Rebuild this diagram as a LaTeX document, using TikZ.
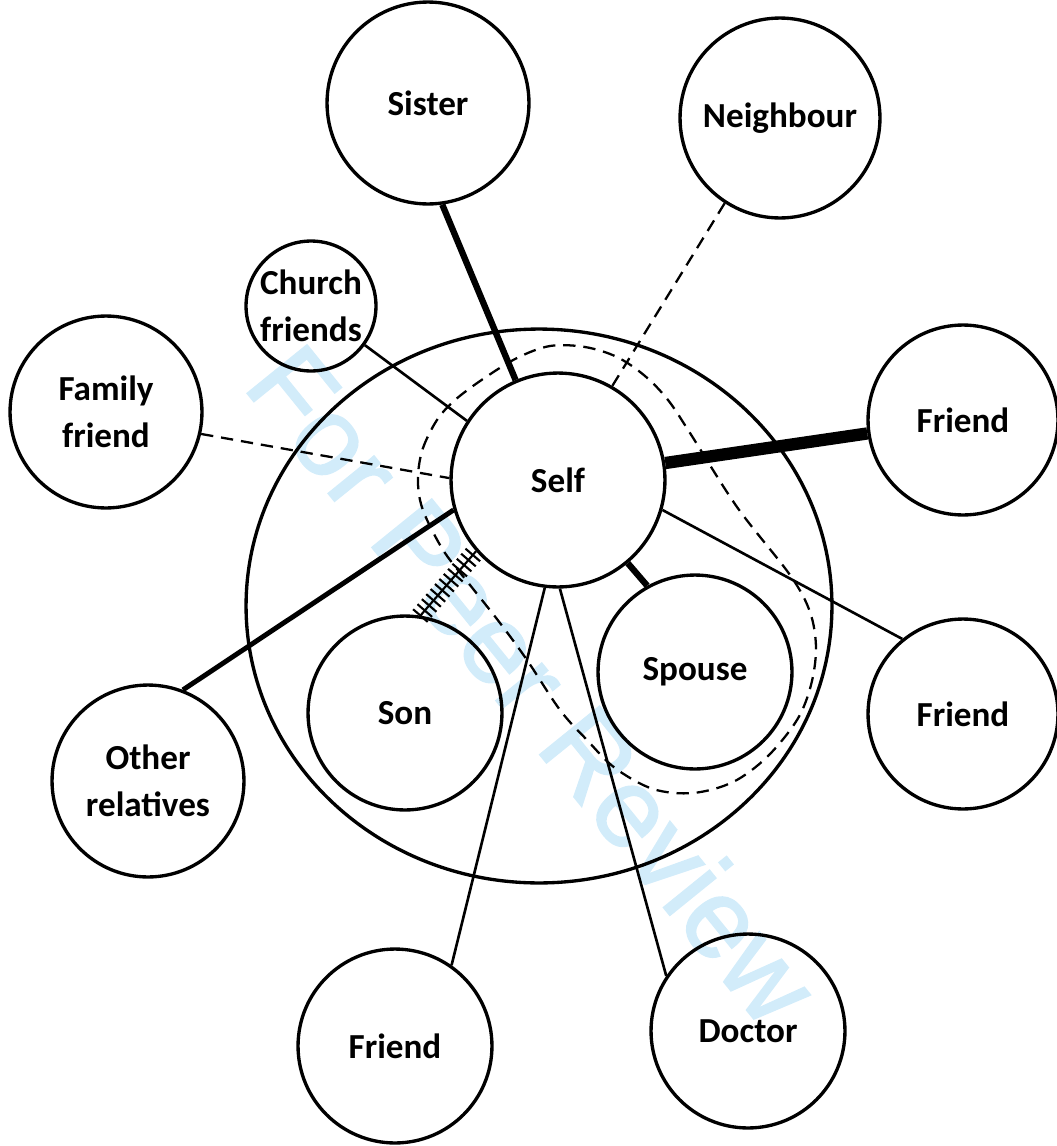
\documentclass[tikz,border=0pt]{standalone}
\usepackage{fontspec}
\setmainfont{Carlito}
\newfontfamily\markfont[FakeBold=1.6]{Liberation Sans}
\usepackage{tikz}
\usetikzlibrary{decorations.markings}
\definecolor{MarkBlue}{HTML}{D2ECFA}

\tikzset{
  person/.style={circle, draw, line width=1.9pt, inner sep=0pt, align=center,
    minimum size=#1*0.04cm, font=\bfseries\fontsize{20}{27}\selectfont},
  tie/.style={line width=1.5pt},
  strongtie/.style={line width=3.6pt},
  weaktie/.style={line width=1.3pt, dash pattern=on 7pt off 4.5pt},
  conflict/.style={line width=1.2pt, postaction={decorate, decoration={markings,
    mark=between positions 0 and 1 step 3.8pt with {\draw[line width=1.2pt] (0,-5.5pt) -- (0,5.5pt);}}}},
}

\begin{document}
\begin{tikzpicture}[x=0.02cm, y=-0.02cm]
  \useasboundingbox (0,0) rectangle (1057,1146);

  % watermark
  \node[rotate=-51, text=MarkBlue, inner sep=0pt, font=\markfont\fontsize{63.5}{64}\selectfont]
    (watermark) at (534,684) {For Peer Review};

  % people
  \node[person=101] (sister) at (428,103) {Sister};
  \node[person=100] (neighbour) at (780,118) {Neighbour};
  \node[person=65] (church) at (311,306) {Church\\friends};
  \node[person=96] (famfriend) at (106,412) {Family\\friend};
  \node[person=107] (self) at (558,480) {Self};
  \node[person=95] (friendA) at (963,420) {Friend};
  \node[person=95] (friendB) at (963,714) {Friend};
  \node[person=97] (spouse) at (695,672) {Spouse};
  \node[person=97] (son) at (405,713) {Son};
  \node[person=96] (relatives) at (148,781) {Other\\relatives};
  \node[person=97] (friendC) at (395,1046) {Friend};
  \node[person=97] (doctor) at (748,1031) {Doctor};

  % household boundary
  \draw[line width=1.9pt] (539,606) ellipse [x radius=5.86cm, y radius=5.54cm];
  \draw[line width=1.3pt, dash pattern=on 7pt off 4.5pt] plot[smooth cycle, tension=0.55] coordinates {
    (418,475) (423,448) (437,420) (455,400) (483,379) (517,358) (550,346) (585,347)
    (617,357) (645,376) (668,400) (690,433) (737,507) (790,575) (810,612) (816,648)
    (811,685) (797,720) (767,757) (733,782) (693,793) (653,789) (615,768) (587,740)
    (560,710) (527,660) (500,623) (470,585) (445,553) (428,522) (420,500)};

  % ties
  \draw[strongtie] (sister.-82) -- (self.113);
  \draw[weaktie] (neighbour.237) -- (self.60);
  \draw[tie] (church.-36) -- (self.147);
  \draw[weaktie] (famfriend.-13) -- (self.179);
  \draw[line width=7pt] (self.9) -- (friendA.188);
  \draw[tie] (self.-16) -- (friendB.129);
  \draw[strongtie] (self.-50) -- (spouse.119);
  \draw[line width=2.8pt] (self.196) -- (relatives.69);
  \draw[conflict] (son.81) -- (self.221);
  \draw[tie] (self.263) -- (friendC.55);
  \draw[tie] (self.-89) -- (doctor.146);
\end{tikzpicture}
\end{document}
